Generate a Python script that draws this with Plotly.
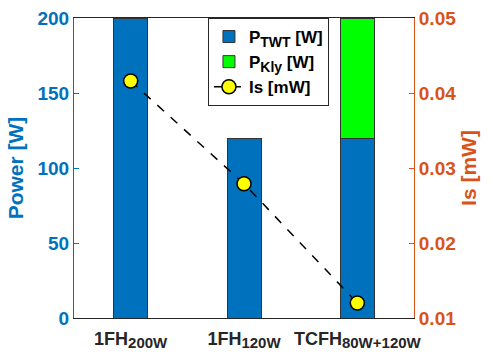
import plotly.graph_objects as go

categories = ["1FH<sub><span style='font-size:15px'>200W</span></sub>",
              "1FH<sub><span style='font-size:15px'>120W</span></sub>",
              "TCFH<sub><span style='font-size:15px'>80W+120W</span></sub>"]
x_pos = [1, 2, 3]
p_twt = [200, 120, 120]
p_kly = [0, 0, 80]
i_s = [0.0416, 0.0279, 0.0120]

BLUE = "#0072BD"
ORANGE = "#D95319"
FONT = "Liberation Sans"

fig = go.Figure()
fig.add_trace(go.Bar(x=x_pos, y=p_twt, width=0.3,
                     name="P<sub><span style='font-size:14px'>TWT</span></sub> [W]",
                     marker=dict(color=BLUE, line=dict(color="#333333", width=1))))
fig.add_trace(go.Bar(x=x_pos, y=p_kly, width=0.3,
                     name="P<sub><span style='font-size:14px'>Kly</span></sub> [W]",
                     marker=dict(color="#00FF00", line=dict(color="#333333", width=1))))
fig.add_trace(go.Scatter(x=x_pos, y=i_s, yaxis="y2", name="Is [mW]", mode="lines+markers",
                         line=dict(color="black", width=1.5, dash="dash"),
                         marker=dict(size=14, color="#FFFF00", line=dict(color="black", width=1.5))))

fig.update_layout(
    width=491, height=356,
    margin=dict(l=74, r=77, t=18, b=38),
    barmode="stack",
    plot_bgcolor="white", paper_bgcolor="white",
    font=dict(family=FONT, size=18, weight="bold"),
    showlegend=True,
    legend=dict(x=0.394, y=1, xanchor="left", yanchor="top", traceorder="normal",
                bordercolor="#262626", borderwidth=1, bgcolor="white",
                font=dict(size=17, color="black", weight="bold"),
                tracegroupgap=0, itemwidth=30),
    xaxis=dict(range=[0.5, 3.5], tickvals=x_pos, ticktext=categories,
               showline=True, linecolor="#262626", linewidth=1, mirror=True,
               ticks="", showgrid=False, zeroline=False, ticklabelstandoff=4,
               automargin=False,
               tickfont=dict(size=18, color="#262626", weight="bold")),
    yaxis=dict(range=[0, 200], tickvals=[0, 50, 100, 150, 200],
               showline=True, linecolor=BLUE, linewidth=1,
               ticks="inside", ticklen=5, tickcolor=BLUE,
               showgrid=False, zeroline=False, automargin=False,
               tickfont=dict(size=19, color=BLUE, weight="bold"),
               title=dict(text="Power [W]", font=dict(size=21, color=BLUE, weight="bold"), standoff=8)),
    yaxis2=dict(range=[0.01, 0.05], tickvals=[0.01, 0.02, 0.03, 0.04, 0.05],
                overlaying="y", side="right",
                showline=True, linecolor=ORANGE, linewidth=1,
                ticks="inside", ticklen=5, tickcolor=ORANGE,
                showgrid=False, zeroline=False, automargin=False,
                tickfont=dict(size=19, color=ORANGE, weight="bold"),
                title=dict(text="Is [mW]", font=dict(size=21, color=ORANGE, weight="bold"), standoff=6)),
)

fig.write_html("out.html")
